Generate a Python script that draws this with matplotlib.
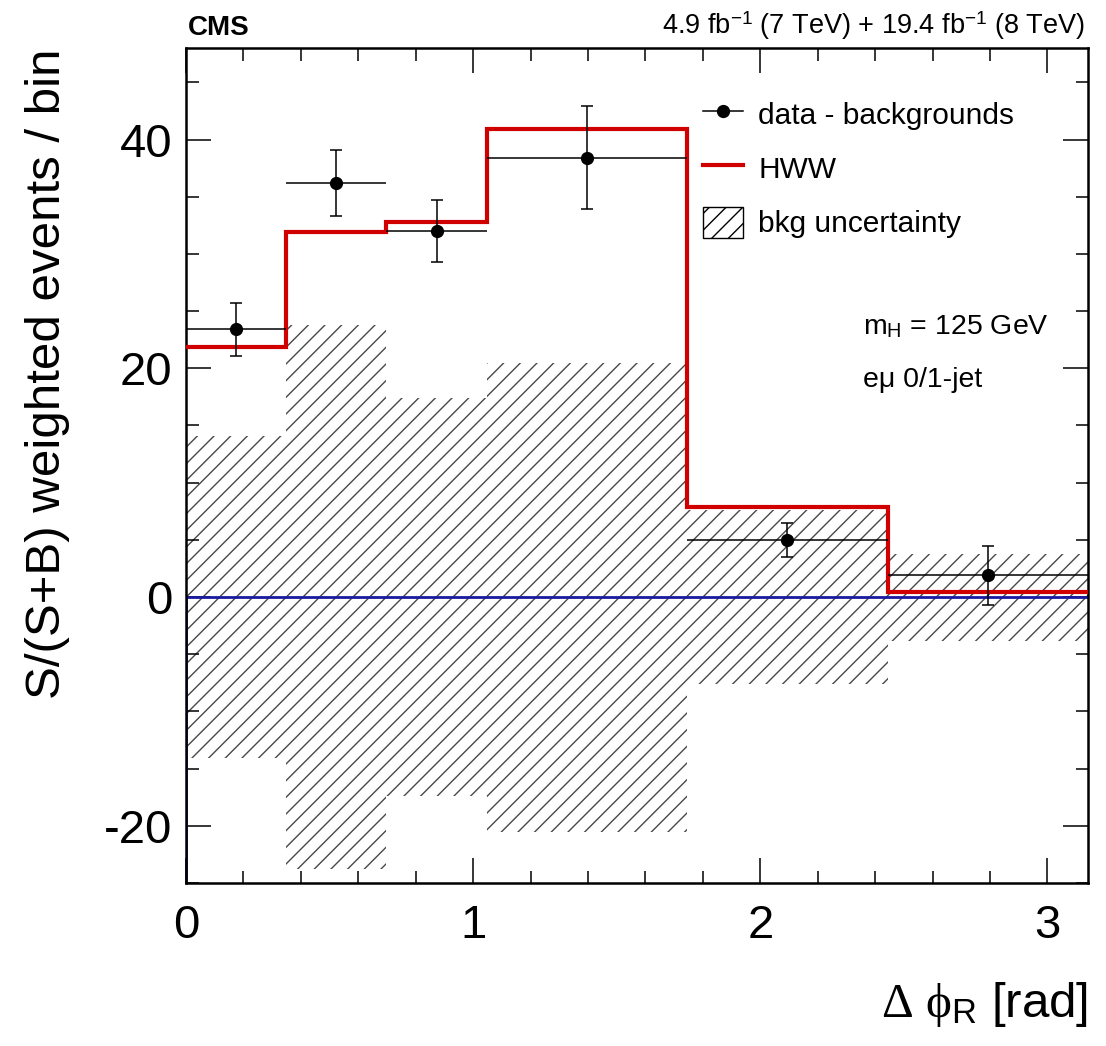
import numpy as np
import matplotlib
matplotlib.use("Agg")
import matplotlib.pyplot as plt
from matplotlib.ticker import MultipleLocator
from matplotlib.lines import Line2D
from matplotlib.patches import Patch

plt.rcParams['font.family'] = ['Liberation Sans', 'DejaVu Sans']
plt.rcParams['mathtext.fontset'] = 'custom'
plt.rcParams['mathtext.rm'] = 'Liberation Serif'
plt.rcParams['mathtext.it'] = 'Liberation Serif'
plt.rcParams['mathtext.sf'] = 'Liberation Sans'
plt.rcParams['hatch.linewidth'] = 1.0
plt.rcParams['axes.unicode_minus'] = False

# ---- data ----
bin_edges = [0.0, np.pi/9, 2*np.pi/9, np.pi/3, 5*np.pi/9, 7*np.pi/9, np.pi]
hww = [21.9, 31.9, 32.8, 40.9, 7.9, 0.4]
data_y = [23.4, 36.2, 32.0, 38.4, 5.0, 1.9]
data_err = [2.3, 2.9, 2.75, 4.5, 1.5, 2.6]
bkg_unc = [14.1, 23.8, 17.4, 20.5, 7.6, 3.8]

edges = np.array(bin_edges)
centers = 0.5 * (edges[:-1] + edges[1:])
halfw = 0.5 * np.diff(edges)
widths = np.diff(edges)
unc = np.array(bkg_unc)

fig = plt.figure(figsize=(11.06, 10.46), dpi=100)
ax = fig.add_axes([0.1682, 0.1558, 0.8156, 0.7983])
xmin, xmax = 0.0, np.pi
ymin, ymax = -25.0, 48.0
ax.set_xlim(xmin, xmax)
ax.set_ylim(ymin, ymax)

# bkg uncertainty hatched band
ax.bar(edges[:-1], 2 * unc, bottom=-unc, width=widths, align='edge',
       fill=False, hatch='//', edgecolor='#484848', linewidth=0, zorder=1)

# zero line (blue)
ax.axhline(0, color='#1a1aa0', lw=2.0, zorder=2)
ax.vlines(edges[0], ymin, 0, color='#1a1aa0', lw=2.0, zorder=2)

# HWW expectation
ax.stairs(hww, edges, baseline=None, color='#d00000', lw=3.0, zorder=3)

# data - backgrounds
ax.errorbar(centers, data_y, xerr=halfw, fmt='none', ecolor='black',
            elinewidth=1.1, capsize=0, zorder=4)
ax.errorbar(centers, data_y, yerr=data_err, fmt='o', color='black',
            ms=8.5, elinewidth=1.1, capsize=4, capthick=1.1, zorder=5)

# axes styling
for s in ax.spines.values():
    s.set_linewidth(1.8)
ax.xaxis.set_major_locator(MultipleLocator(1))
ax.xaxis.set_minor_locator(MultipleLocator(0.2))
ax.yaxis.set_major_locator(MultipleLocator(20))
ax.yaxis.set_minor_locator(MultipleLocator(5))
ax.tick_params(which='both', direction='in', top=True, right=True, width=1.1)
ax.tick_params(which='major', length=18)
ax.tick_params(which='minor', length=9)
ax.tick_params(axis='x', which='major', labelsize=34, pad=15)
ax.tick_params(axis='y', which='major', labelsize=34, pad=10)

ax.set_ylabel('S/(S+B) weighted events / bin', fontsize=35.5, loc='top')
ax.yaxis.label.set_va('center')
ax.yaxis.set_label_coords(-0.154, 1.0)
ax.set_xlabel(r'$\Delta\ \phi_{\mathsf{R}}$ [rad]', fontsize=35.5, loc='right')
ax.xaxis.label.set_va('center')
ax.xaxis.set_label_coords(1.0, -0.145)

# legend
handles = [
    Line2D([], [], color='black', marker='o', ms=8.5, lw=1.1),
    Line2D([], [], color='#d00000', lw=3.0),
    Patch(facecolor='white', edgecolor='black', hatch='//', lw=1.0),
]
labels = ['data - backgrounds', 'HWW', 'bkg uncertainty']
ax.legend(handles, labels, loc='upper left', bbox_to_anchor=(0.573, 0.940),
          frameon=False, fontsize=21.5, handlelength=1.35, handleheight=1.25,
          handletextpad=0.5, labelspacing=0.75, borderpad=0, borderaxespad=0)

ax.text(0.7506, 0.666, r'm$_{\mathsf{H}}$ = 125 GeV', transform=ax.transAxes,
        fontsize=20.5, va='center', ha='left')
ax.text(0.7506, 0.602, 'eμ 0/1-jet', transform=ax.transAxes,
        fontsize=20.5, va='center', ha='left')

fig.text(0.170, 0.9665, 'CMS', fontsize=20, fontweight='bold', ha='left', va='baseline')
fig.text(0.981, 0.9675, r'4.9 fb$^{\mathsf{-1}}$ (7 TeV) + 19.4 fb$^{\mathsf{-1}}$ (8 TeV)',
         fontsize=19.5, ha='right', va='baseline')

fig.savefig('out.png', dpi=100)
